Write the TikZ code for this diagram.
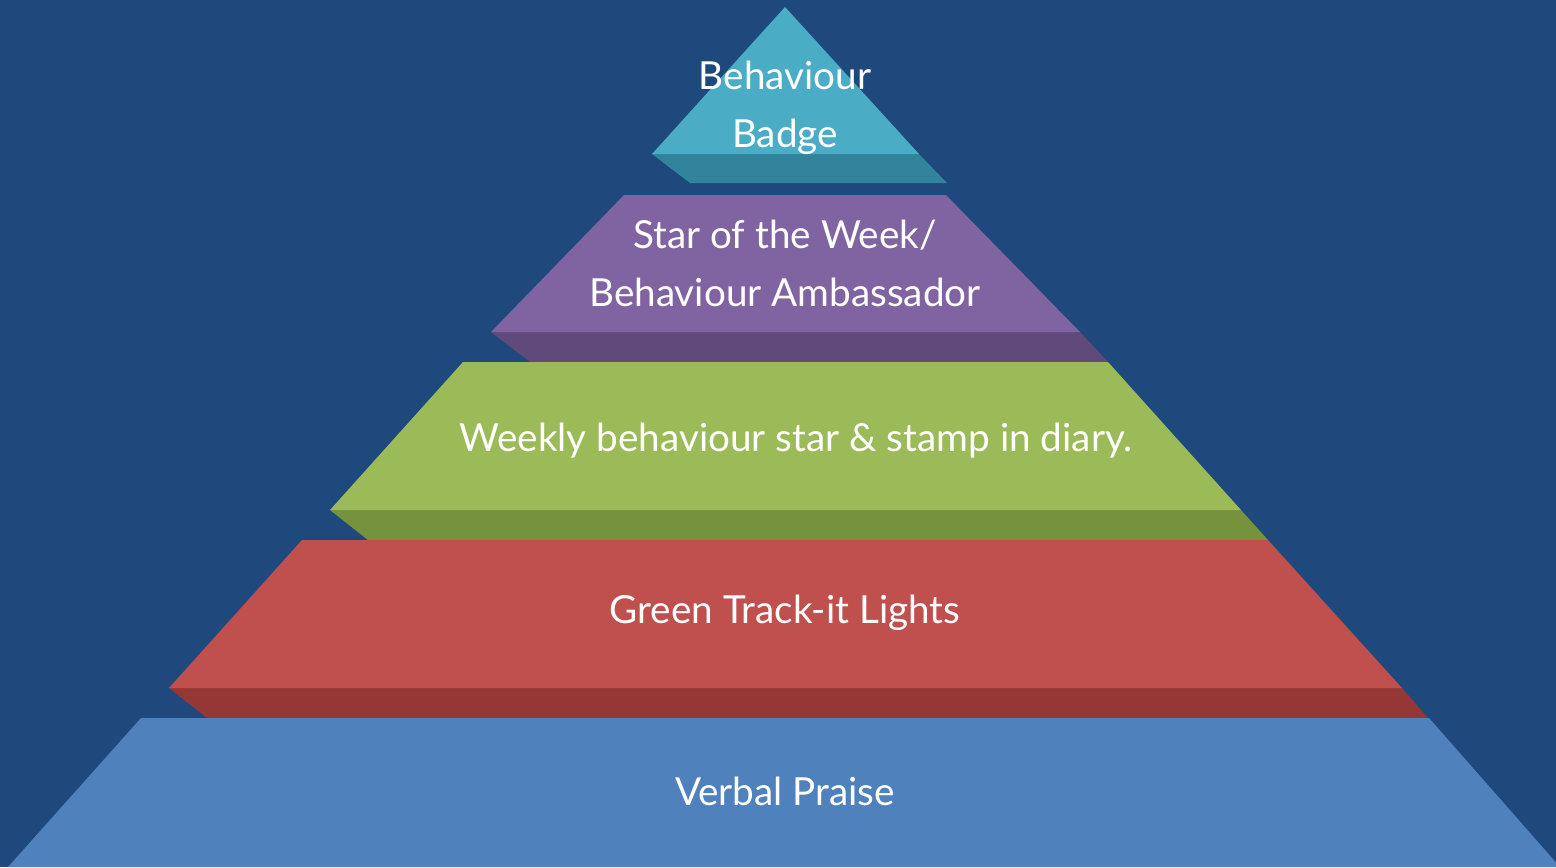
\documentclass[tikz,border=0pt]{standalone}
\usepackage{fontspec}
\setmainfont{Lato}
\definecolor{bgblue}{HTML}{1F497D}
\definecolor{aquaF}{HTML}{4BACC6}
\definecolor{aquaS}{HTML}{31849B}
\definecolor{purpleF}{HTML}{8064A2}
\definecolor{purpleS}{HTML}{604A7B}
\definecolor{greenF}{HTML}{9BBB59}
\definecolor{greenS}{HTML}{76923C}
\definecolor{redF}{HTML}{C0504D}
\definecolor{redS}{HTML}{953735}
\definecolor{blueF}{HTML}{4F81BD}
\tikzset{
  label text/.style={text=white,align=center,font=\fontsize{22}{33}\selectfont}
}
\begin{document}
\begin{tikzpicture}[x=0.02cm,y=-0.02cm]
  \fill[bgblue] (0,0) rectangle (1556,867);
  \useasboundingbox (0,0) rectangle (1556,867);

  % top: badge
  \fill[aquaS]   (652,154) -- (919,154) -- (947,183) -- (690,183) -- cycle;
  \fill[aquaF]   (785,7) -- (919,154) -- (652,154) -- cycle;
  % star of the week
  \fill[purpleS] (491,332) -- (1080,332) -- (1108,362) -- (530,362) -- cycle;
  \fill[purpleF] (624,195) -- (946,195) -- (1080,332) -- (491,332) -- cycle;
  % weekly star
  \fill[greenS]  (330,510) -- (1241,510) -- (1268,540) -- (368,540) -- cycle;
  \fill[greenF]  (463,362) -- (1108,362) -- (1241,510) -- (330,510) -- cycle;
  % track-it lights
  \fill[redS]    (169,688) -- (1402,688) -- (1428,718) -- (207,718) -- cycle;
  \fill[redF]    (302,540) -- (1268,540) -- (1402,688) -- (169,688) -- cycle;
  % verbal praise
  \fill[blueF]   (141,718) -- (1429,718) -- (1560,867) -- (8,867) -- cycle;

  \node[label text] (badge)  at (785,108) {Behaviour\\Badge};
  \node[label text] (star)   at (785,263) {Star of the Week/\\Behaviour Ambassador};
  \node[label text] (weekly) at (796,441) {Weekly behaviour star \& stamp in diary.};
  \node[label text] (lights) at (785,613) {Green Track-it Lights};
  \node[label text] (praise) at (785,791) {Verbal Praise};
\end{tikzpicture}
\end{document}
